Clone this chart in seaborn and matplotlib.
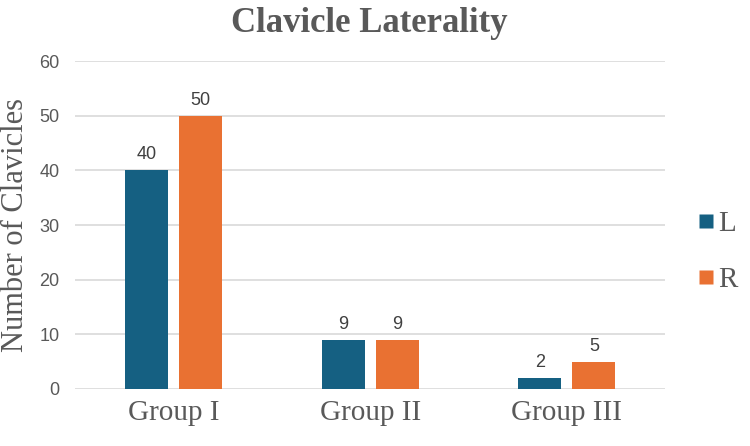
import matplotlib
matplotlib.use("Agg")
import matplotlib.pyplot as plt
from matplotlib.lines import Line2D
import seaborn as sns
import pandas as pd

categories = ["Group I", "Group II", "Group III"]
left_vals = [40, 9, 2]
right_vals = [50, 9, 5]
series = ["L", "R"]
colors = ["#156082", "#E97132"]

df = pd.DataFrame({
    "group": categories * 2,
    "side": ["L"] * len(categories) + ["R"] * len(categories),
    "count": left_vals + right_vals,
})

sns.set_theme(style="white")
plt.rcParams["font.family"] = ["Liberation Serif", "DejaVu Serif"]

fig = plt.figure(figsize=(7.5, 4.46), dpi=100)
ax = fig.add_axes([0.1, 0.128, 0.787, 0.735])

sns.barplot(data=df, x="group", y="count", hue="side", hue_order=series,
            palette=colors, width=0.548, gap=0.2, ax=ax, legend=False,
            saturation=1, edgecolor="none")

for c in ax.containers:
    ax.bar_label(c, padding=5, fontsize=13, color="#404040", family="Liberation Sans")

ax.set_ylim(0, 60)
ax.set_yticks(range(0, 61, 10))
ax.set_xlim(-0.5, 2.5)
ax.yaxis.grid(True, color="#D9D9D9", linewidth=1.2)
ax.set_axisbelow(True)
for s in ax.spines.values():
    s.set_visible(False)
ax.tick_params(axis="y", labelsize=13, labelcolor="#595959", length=0, pad=11)
for t in ax.get_yticklabels():
    t.set_family("Liberation Sans")
ax.tick_params(axis="x", labelsize=21, labelcolor="#595959", length=0, pad=8)
ax.set_xlabel("")
ax.set_ylabel("Number of Clavicles", fontsize=22, color="#595959")
ax.yaxis.set_label_coords(-0.076, 0.5)
fig.suptitle("Clavicle Laterality", fontsize=25, fontweight="bold", color="#595959", x=0.493, y=0.985)

handles = [Line2D([0], [0], marker="s", linestyle="none", markersize=10,
                  markerfacecolor=col, markeredgecolor="none") for col in colors]
fig.legend(handles, series, loc="center left", bbox_to_anchor=(0.897, 0.435),
           frameon=False, fontsize=21, labelcolor="#595959", handletextpad=0.17,
           labelspacing=1.0, handlelength=0.5)

fig.savefig("out.png", dpi=100)
